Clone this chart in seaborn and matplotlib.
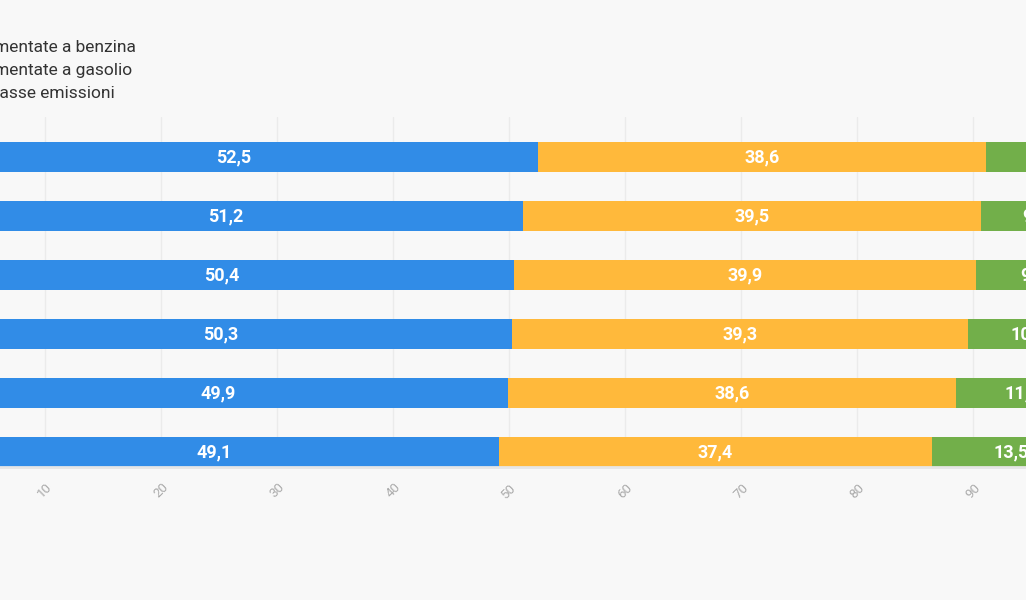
import matplotlib
matplotlib.use("Agg")
import matplotlib.pyplot as plt
import seaborn as sns
import pandas as pd
from matplotlib.patches import Patch

# data (categories are outside the visible crop)
years = ["2016", "2017", "2018", "2019", "2020", "2021"]
benzina = [52.5, 51.2, 50.4, 50.3, 49.9, 49.1]
gasolio = [38.6, 39.5, 39.9, 39.3, 38.6, 37.4]
basse = [8.9, 9.3, 9.7, 10.4, 11.5, 13.5]
series_names = ["Autovetture alimentate a benzina",
                "Autovetture alimentate a gasolio",
                "Autovetture a basse emissioni"]
colors = ["#318CE7", "#FFB93B", "#72AF4A"]
x_ticks = [10, 20, 30, 40, 50, 60, 70, 80, 90]

bg = "#F8F8F8"
sns.set_theme(style="white")
plt.rcParams["font.family"] = ["Roboto", "DejaVu Sans"]

df = pd.DataFrame({"year": years, "benzina": benzina,
                   "gasolio": gasolio, "basse": basse})
df["c1"] = df["benzina"]
df["c2"] = df["c1"] + df["gasolio"]
df["c3"] = df["c2"] + df["basse"]

fig = plt.figure(figsize=(10.26, 6.0), dpi=100, facecolor=bg)
# the original view is cropped: the axis runs past both figure edges
ax = fig.add_axes([-71 / 1026, 133 / 600, 1160 / 1026, 350 / 600])
ax.set_facecolor(bg)

# stacked bars: draw cumulative totals back to front
for col, color in zip(["c3", "c2", "c1"], colors[::-1]):
    sns.barplot(data=df, x=col, y="year", orient="h", color=color,
                width=0.51, saturation=1, ax=ax, linewidth=0)

for i, row in df.iterrows():
    starts = [0, row["c1"], row["c2"]]
    for s, v in zip(starts, [row["benzina"], row["gasolio"], row["basse"]]):
        ax.text(s + v / 2, i, f"{v:.1f}".replace(".", ","), ha="center",
                va="center", color="white", fontsize=13, fontweight="bold")

ax.set_xlim(0, 100)
ax.set_ylim(5.255, -0.68)
ax.set_xticks(x_ticks)
ax.set_xticklabels([str(t) for t in x_ticks], rotation=45, color="#AAAAAA",
                   fontsize=9.5)
ax.tick_params(axis="x", length=6, color="#E6E6E6", width=1, pad=4)
ax.set_yticks(range(len(years)))
ax.set_yticklabels(years)
ax.set_xlabel("")
ax.set_ylabel("")
ax.grid(axis="x", color="#EBEBEB", linewidth=1)
ax.set_axisbelow(True)
for side in ["top", "right", "left"]:
    ax.spines[side].set_visible(False)
ax.spines["bottom"].set_color("#E6E6E6")
ax.spines["bottom"].set_linewidth(2)

handles = [Patch(color=c, label=n) for c, n in zip(colors, series_names)]
fig.legend(handles=handles, loc="upper right",
           bbox_to_anchor=(136 / 1026, 1 - 40 / 600), frameon=False,
           fontsize=12.5, labelcolor="#333333", borderpad=0,
           borderaxespad=0, labelspacing=0.45, handlelength=1)

fig.savefig("out.png", dpi=100, facecolor=bg)
